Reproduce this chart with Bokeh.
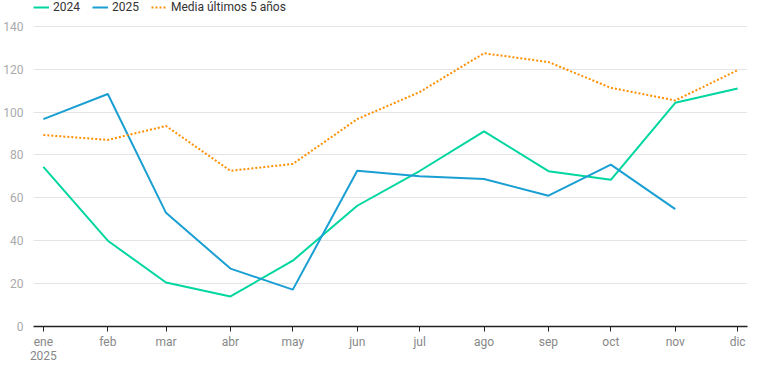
from datetime import datetime
from bokeh.plotting import figure
from bokeh.models import ColumnDataSource, FixedTicker, Range1d, Legend, LegendItem
from bokeh.embed import file_html
from bokeh.resources import INLINE

months = ["2025-01-01", "2025-02-01", "2025-03-01", "2025-04-01", "2025-05-01", "2025-06-01",
          "2025-07-01", "2025-08-01", "2025-09-01", "2025-10-01", "2025-11-01", "2025-12-01"]
month_labels = ["ene\n2025", "feb", "mar", "abr", "may", "jun", "jul", "ago", "sep", "oct", "nov", "dic"]
s2024 = [74.4, 40, 20.5, 14, 30.7, 56.3, 72.5, 91, 72.4, 68.4, 104.3, 111]
s2025 = [96.7, 108.4, 53, 27, 17.2, 72.6, 70, 68.8, 61, 75.5, 54.7]
media = [89.3, 87, 93.5, 72.6, 75.8, 96.7, 109.3, 127.4, 123.3, 111.3, 105.4, 119.5]
y_ticks = [0, 20, 40, 60, 80, 100, 120, 140]

def ms(d):
    return datetime.strptime(d, "%Y-%m-%d").timestamp() * 1000.0

xs = [ms(m) for m in months]
day = 86400000.0

p = figure(width=750, height=365, output_backend="svg", toolbar_location=None,
           x_range=Range1d(xs[0] - 4.75 * day, xs[-1] + 4.75 * day),
           y_range=Range1d(0, 152),
           min_border_left=23, min_border_right=3, min_border_top=0, min_border_bottom=0)
p.outline_line_color = None
p.background_fill_color = "white"
p.border_fill_color = "white"

r1 = p.line(xs, s2024, line_color="#00d6a0", line_width=2)
r2 = p.line(xs[:len(s2025)], s2025, line_color="#1a9fd3", line_width=2)
r3 = p.line(xs, media, line_color="#ff8f00", line_width=2, line_dash="2 2")

p.xgrid.grid_line_color = None
p.ygrid.grid_line_color = "#e4e4e4"
p.ygrid.grid_line_width = 1

p.xaxis.ticker = FixedTicker(ticks=xs)
p.xaxis.major_label_overrides = {x: l for x, l in zip(xs, month_labels)}
p.xaxis.axis_line_color = "#222222"
p.xaxis.axis_line_width = 1.5
p.xaxis.major_tick_line_color = "#222222"
p.xaxis.major_tick_out = 5
p.xaxis.major_tick_in = 0
p.xaxis.minor_tick_line_color = None
p.xaxis.major_label_text_font = "Roboto"
p.xaxis.major_label_text_font_size = "12px"
p.xaxis.major_label_text_color = "#888888"
p.xaxis.major_label_text_line_height = 1.0
p.xaxis.major_label_standoff = 3
p.xaxis.axis_label_standoff = 0

p.yaxis.ticker = FixedTicker(ticks=y_ticks)
p.yaxis.axis_line_color = None
p.yaxis.major_tick_line_color = None
p.yaxis.minor_tick_line_color = None
p.yaxis.major_label_text_font = "Roboto"
p.yaxis.major_label_text_font_size = "12px"
p.yaxis.major_label_text_color = "#aaaaaa"
p.yaxis.major_label_standoff = 4
p.yaxis.axis_label_standoff = 0

legend = Legend(items=[LegendItem(label="2024", renderers=[r1]),
                       LegendItem(label="2025", renderers=[r2]),
                       LegendItem(label="Media últimos 5 años", renderers=[r3])],
                orientation="horizontal", location="top_left")
legend.label_text_font = "Roboto"
legend.label_text_font_size = "12px"
legend.label_text_color = "#333333"
legend.glyph_width = 16
legend.glyph_height = 12
legend.label_height = 12
legend.label_standoff = 4
legend.spacing = 12
legend.padding = 0
legend.margin = 0
legend.border_line_color = None
legend.background_fill_alpha = 0
p.add_layout(legend)

open("out.html", "w").write(file_html(p, INLINE))
